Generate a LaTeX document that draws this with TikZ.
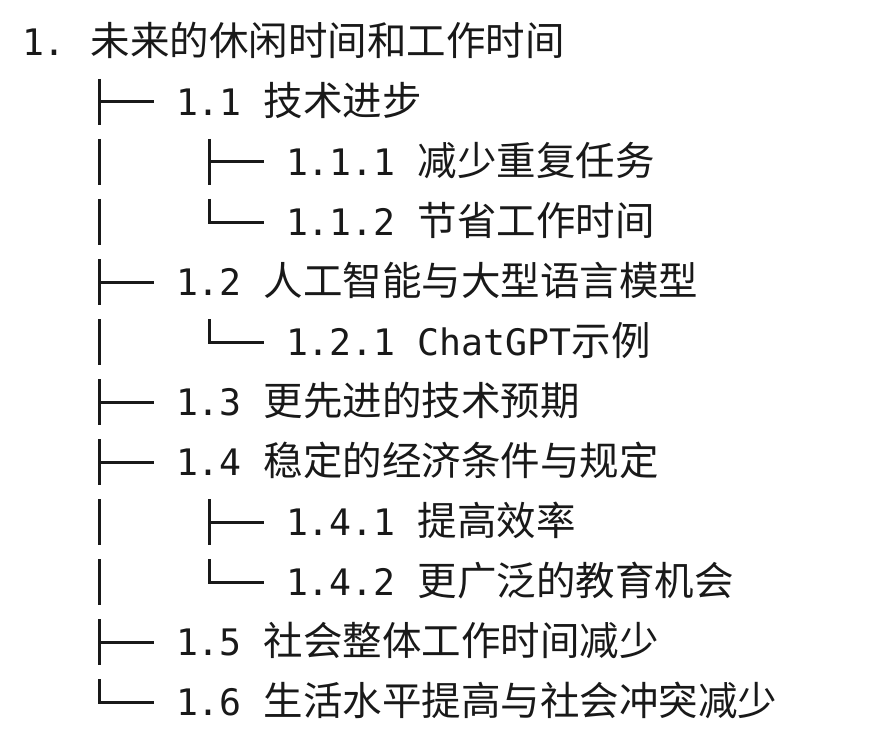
\documentclass[tikz,border=0pt]{standalone}
\usepackage{fontspec}
\newfontfamily\latmono{DejaVu Sans Mono}
\newfontfamily\cjk{Noto Sans CJK SC}
\newcommand\zh[1]{{\cjk\fontsize{39.5}{44}\selectfont #1}}
\begin{document}
\begin{tikzpicture}[x=1pt,y=1pt,
  txt/.style={anchor=base west, inner sep=0pt, outer sep=0pt, text=black!90,
    font=\latmono\fontsize{36.5}{44}\selectfont},
  treeline/.style={line width=3pt, draw=black!90, line join=miter}]
\useasboundingbox (0,0) rectangle (890,-743);
% rows: center y = -(42+60k); baseline = center - 13.5
\node[txt] (t0)  at (22,-55.5)  {1.\hspace{25pt}\zh{未来的休闲时间和工作时间}};
\node[txt] (t1)  at (176,-115.5) {1.1 \zh{技术进步}};
\node[txt] (t2)  at (286,-175.5) {1.1.1 \zh{减少重复任务}};
\node[txt] (t3)  at (286,-235.5) {1.1.2 \zh{节省工作时间}};
\node[txt] (t4)  at (176,-295.5) {1.2 \zh{人工智能与大型语言模型}};
\node[txt] (t5)  at (286,-355.5) {1.2.1 ChatGPT\zh{示例}};
\node[txt] (t6)  at (176,-415.5) {1.3 \zh{更先进的技术预期}};
\node[txt] (t7)  at (176,-475.5) {1.4 \zh{稳定的经济条件与规定}};
\node[txt] (t8)  at (286,-535.5) {1.4.1 \zh{提高效率}};
\node[txt] (t9)  at (286,-595.5) {1.4.2 \zh{更广泛的教育机会}};
\node[txt] (t10) at (176,-655.5) {1.5 \zh{社会整体工作时间减少}};
\node[txt] (t11) at (176,-715.5) {1.6 \zh{生活水平提高与社会冲突减少}};
% tee branches: x/row
\foreach \x/\k in {99/1,99/4,99/6,99/7,99/10,209/2,209/8}{
  \coordinate (p) at (\x,{-(42+60*\k)});
  \draw[treeline] ([yshift=23]p) -- ([yshift=-23]p);
  \draw[treeline] (p) -- ++(55,0);
}
% last-child (corner) branches
\foreach \x/\k in {99/11,209/3,209/5,209/9}{
  \coordinate (p) at (\x,{-(42+60*\k)});
  \draw[treeline] ([yshift=23]p) -- (p) -- ++(55,0);
}
% plain verticals
\foreach \k in {2,3,5,8,9}{
  \coordinate (p) at (99,{-(42+60*\k)});
  \draw[treeline] ([yshift=23]p) -- ([yshift=-23]p);
}
\end{tikzpicture}
\end{document}
